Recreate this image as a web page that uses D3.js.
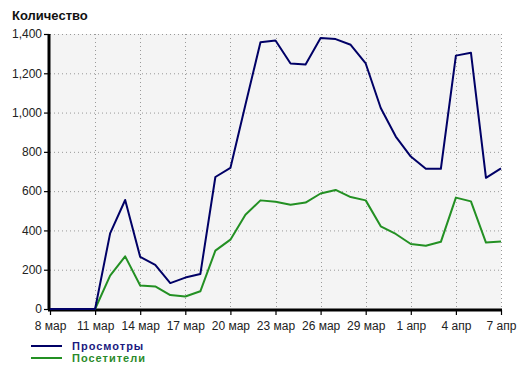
<!DOCTYPE html>
<html lang="ru">
<head>
  <meta charset="UTF-8">
  <title>Количество</title>
  <script src="https://d3js.org/d3.v7.min.js"></script>
  <style>
    body { margin: 0; background: #fff; }
    text { font-family: "Liberation Sans", Arial, sans-serif; }
  </style>
</head>
<body>

<script>
  // Dates, 8 мар .. 7 апр (one point per day)
  const dayLabels = [
    '8 мар', '9 мар', '10 мар', '11 мар', '12 мар', '13 мар', '14 мар', '15 мар',
    '16 мар', '17 мар', '18 мар', '19 мар', '20 мар', '21 мар', '22 мар', '23 мар',
    '24 мар', '25 мар', '26 мар', '27 мар', '28 мар', '29 мар', '30 мар', '31 мар',
    '1 апр', '2 апр', '3 апр', '4 апр', '5 апр', '6 апр', '7 апр'
  ];
  const views = [
    0, 0, 0, 0, 385, 555, 265, 225, 132, 160, 178, 672, 718, 1040, 1358, 1367,
    1250, 1245, 1380, 1374, 1345, 1250, 1023, 878, 776, 714, 714, 1290, 1305, 668, 716
  ];
  const visitors = [
    0, 0, 0, 0, 170, 268, 120, 115, 71, 64, 90, 297, 353, 480, 553, 546,
    531, 542, 588, 606, 570, 553, 421, 382, 331, 322, 342, 567, 548, 338, 344
  ];
  const yTicks = [0, 200, 400, 600, 800, 1000, 1200, 1400];
  const xTickIdx = [0, 3, 6, 9, 12, 15, 18, 21, 24, 27, 30];

  const series = [
    { name: 'Просмотры', values: views, color: '#000066', text: '#1a1a80' },
    { name: 'Посетители', values: visitors, color: '#239023', text: '#2a8a2a' }
  ];

  const width = 527, height = 375;
  const plotL = 50, plotR = 501, plotT = 34, plotB = 309;

  const svg = d3.select('body').append('svg')
    .attr('width', width)
    .attr('height', height);

  const x = d3.scaleLinear().domain([0, dayLabels.length - 1]).range([plotL, plotR]);
  const y = d3.scaleLinear().domain([0, 1400]).range([plotB, plotT]);

  // plot background
  svg.append('rect')
    .attr('x', plotL).attr('y', plotT)
    .attr('width', plotR - plotL).attr('height', plotB - plotT)
    .attr('fill', '#f4f4f4');

  // dotted grid
  svg.append('g').selectAll('line').data(yTicks.slice(1)).enter().append('line')
    .attr('x1', plotL).attr('x2', plotR)
    .attr('y1', d => y(d) + 0.5).attr('y2', d => y(d) + 0.5)
    .attr('stroke', '#999').attr('stroke-dasharray', '1,3');
  svg.append('g').selectAll('line').data(xTickIdx.slice(1)).enter().append('line')
    .attr('x1', d => Math.round(x(d)) + 0.5).attr('x2', d => Math.round(x(d)) + 0.5)
    .attr('y1', plotT).attr('y2', plotB)
    .attr('stroke', '#999').attr('stroke-dasharray', '1,3');

  // y axis
  const yAxis = svg.append('g').attr('transform', `translate(${plotL - 1},0)`)
    .call(d3.axisLeft(y).tickValues(yTicks).tickSize(5).tickPadding(2)
      .tickFormat(d3.format(',')));
  yAxis.select('.domain').attr('stroke', '#000').attr('stroke-width', 3)
    .attr('d', `M0,${plotT}V${plotB + 1}`);
  yAxis.selectAll('.tick line').attr('stroke', '#000').attr('stroke-width', 1.2);
  yAxis.selectAll('text').attr('font-size', 12).attr('fill', '#222');

  // x axis
  const xAxis = svg.append('g').attr('transform', `translate(0,${plotB + 1})`)
    .call(d3.axisBottom(x).tickValues(xTickIdx).tickSize(5).tickPadding(6)
      .tickFormat(i => dayLabels[i]));
  xAxis.select('.domain').attr('stroke', '#000').attr('stroke-width', 3)
    .attr('d', `M${plotL - 2},0H${plotR + 1}`);
  xAxis.selectAll('.tick line').attr('stroke', '#000').attr('stroke-width', 1.2);
  xAxis.selectAll('text').attr('font-size', 12).attr('fill', '#222');

  // lines
  const line = d3.line().x((d, i) => x(i)).y(d => y(d));
  series.slice().reverse().forEach(s => {
    svg.append('path')
      .datum(s.values)
      .attr('d', line)
      .attr('fill', 'none')
      .attr('stroke', s.color)
      .attr('stroke-width', 2)
      .attr('stroke-linejoin', 'round');
  });

  // title
  svg.append('text')
    .attr('x', 12).attr('y', 20)
    .attr('font-size', 13).attr('font-weight', 'bold')
    .attr('fill', '#111')
    .text('Количество');

  // legend
  const legend = svg.append('g');
  series.forEach((s, i) => {
    const ly = 346 + i * 12;
    legend.append('line')
      .attr('x1', 31).attr('x2', 62)
      .attr('y1', ly).attr('y2', ly)
      .attr('stroke', s.color).attr('stroke-width', 2);
    legend.append('text')
      .attr('x', 72).attr('y', ly + 4)
      .attr('font-size', 11).attr('font-weight', 'bold')
      .attr('letter-spacing', 1)
      .attr('fill', s.text)
      .text(s.name);
  });
</script>

</body>
</html>
